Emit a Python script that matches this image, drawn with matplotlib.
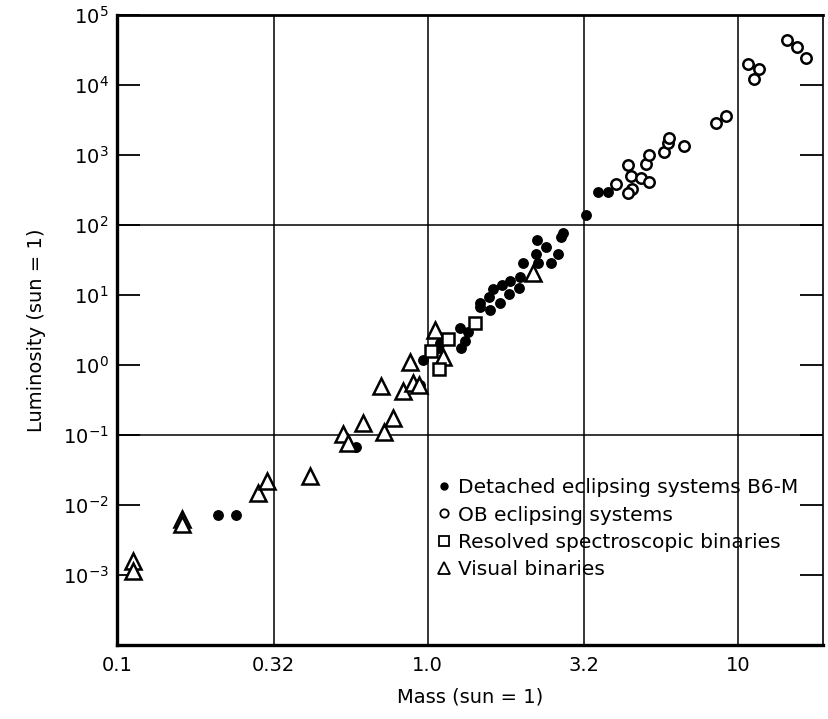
import matplotlib
matplotlib.use('Agg')
import matplotlib.pyplot as plt
from matplotlib.lines import Line2D

# ---- data ----
# Detached eclipsing systems B6-M (filled circles)
det_mass = [0.211, 0.241, 0.589, 0.946, 0.967, 1.10, 1.08, 1.27, 1.35, 1.32, 1.28,
            1.476, 1.476, 1.59, 1.58, 1.71, 1.63, 1.74, 1.83, 1.84, 1.97, 1.99,
            2.03, 2.27, 2.50, 2.24, 2.41, 2.25, 2.63, 2.69, 2.73, 3.24, 3.54, 3.81]
det_lum = [0.0072, 0.0072, 0.0674, 0.52, 1.18, 2.06, 1.75, 3.38, 2.96, 2.20, 1.75,
           6.74, 7.69, 6.11, 9.36, 7.69, 12.2, 13.9, 10.3, 15.8, 12.6, 18.1,
           28.7, 28.7, 28.7, 38.5, 48.5, 61.0, 38.5, 67.4, 76.9, 139, 296, 296]

# OB eclipsing systems (open circles)
ob_mass = [4.05, 4.42, 4.52, 4.87, 5.17, 4.56, 4.42, 5.05, 5.17, 5.78, 5.95, 6.00,
           6.70, 8.49, 9.15, 10.8, 11.7, 11.3, 14.4, 15.5, 16.6]
ob_lum = [385, 720, 501, 469, 411, 327, 287, 744, 1000, 1104, 1484, 1750,
          1345, 2866, 3607, 19950, 16930, 12180, 43940, 34900, 24300]

# Resolved spectroscopic binaries (open squares)
sb_mass = [1.42, 1.164, 1.026, 1.089]
sb_lum = [3.98, 2.35, 1.58, 0.877]

# Visual binaries (open triangles)
vb_mass = [0.1126, 0.1126, 0.162, 0.162, 0.284, 0.304, 0.419, 0.535, 0.555, 0.620,
           0.724, 0.774, 0.708, 0.834, 0.898, 0.94, 0.878, 1.057, 1.12, 2.19]
vb_lum = [0.00158, 0.00114, 0.0063, 0.00535, 0.0148, 0.022, 0.026, 0.103, 0.0769, 0.148,
          0.110, 0.175, 0.50, 0.425, 0.553, 0.518, 1.10, 3.16, 1.30, 20.6]

x_ticks = [0.1, 0.32, 1.0, 3.2, 10]
x_ticklabels = ['0.1', '0.32', '1.0', '3.2', '10']
y_ticks = [1e-3, 1e-2, 1e-1, 1e0, 1e1, 1e2, 1e3, 1e4, 1e5]
y_ticklabels = [r'$10^{-3}$', r'$10^{-2}$', r'$10^{-1}$', r'$10^{0}$', r'$10^{1}$',
                r'$10^{2}$', r'$10^{3}$', r'$10^{4}$', r'$10^{5}$']
x_grid = [0.32, 1.0, 3.2, 10]
y_grid = [1e-1, 1e2]

legend_labels = ['Detached eclipsing systems B6-M', 'OB eclipsing systems',
                 'Resolved spectroscopic binaries', 'Visual binaries']

# ---- plotting ----
plt.rcParams['font.family'] = ['DejaVu Sans']
plt.rcParams['mathtext.default'] = 'regular'

fig = plt.figure(figsize=(8.29, 7.19), dpi=100)
ax = fig.add_axes([117/829, 74/719, 706/829, 630/719])
ax.set_xscale('log')
ax.set_yscale('log')
ax.set_xlim(0.1, 18.78)
ax.set_ylim(1e-4, 1e5)

for xv in x_grid:
    ax.axvline(xv, color='black', lw=1.1, zorder=1)
for yv in y_grid:
    ax.axhline(yv, color='black', lw=1.1, zorder=1)

ax.plot(det_mass, det_lum, ls='none', marker='o', ms=6.8, mfc='black', mec='black', zorder=3)
ax.plot(ob_mass, ob_lum, ls='none', marker='o', ms=7.5, mfc='white', mec='black', mew=1.8, zorder=3)
ax.plot(vb_mass, vb_lum, ls='none', marker='^', ms=11, mfc='white', mec='black', mew=1.8, zorder=4)
ax.plot(sb_mass, sb_lum, ls='none', marker='s', ms=8.5, mfc='white', mec='black', mew=1.8, zorder=4)

ax.set_xticks(x_ticks)
ax.set_xticklabels(x_ticklabels)
ax.set_yticks(y_ticks)
ax.set_yticklabels(y_ticklabels)
ax.xaxis.set_minor_locator(matplotlib.ticker.NullLocator())
ax.yaxis.set_minor_locator(matplotlib.ticker.NullLocator())
ax.tick_params(axis='x', length=0, pad=8, labelsize=14)
ax.tick_params(axis='y', direction='in', length=16.5, width=1.3, left=True, right=True,
               pad=6, labelsize=14)

ax.spines['left'].set_linewidth(2.4)
ax.spines['bottom'].set_linewidth(2.4)
ax.spines['top'].set_linewidth(2.0)
ax.spines['right'].set_linewidth(1.2)
for s in ax.spines.values():
    s.set_zorder(5)

ax.set_xlabel('Mass (sun = 1)', fontsize=14, labelpad=9)
ax.set_ylabel('Luminosity (sun = 1)', fontsize=14, labelpad=12)

handles = [
    Line2D([], [], ls='none', marker='o', ms=5, mfc='black', mec='black'),
    Line2D([], [], ls='none', marker='o', ms=6, mfc='white', mec='black', mew=1.3),
    Line2D([], [], ls='none', marker='s', ms=7, mfc='white', mec='black', mew=1.3),
    Line2D([], [], ls='none', marker='^', ms=9, mfc='white', mec='black', mew=1.3),
]
ax.legend(handles, legend_labels, loc='upper left', bbox_to_anchor=(0.452, 0.265),
          frameon=False, fontsize=14.5, handletextpad=0.3, labelspacing=0.42,
          handlelength=0.8, borderpad=0, borderaxespad=0)

fig.savefig('out.png', dpi=100)
